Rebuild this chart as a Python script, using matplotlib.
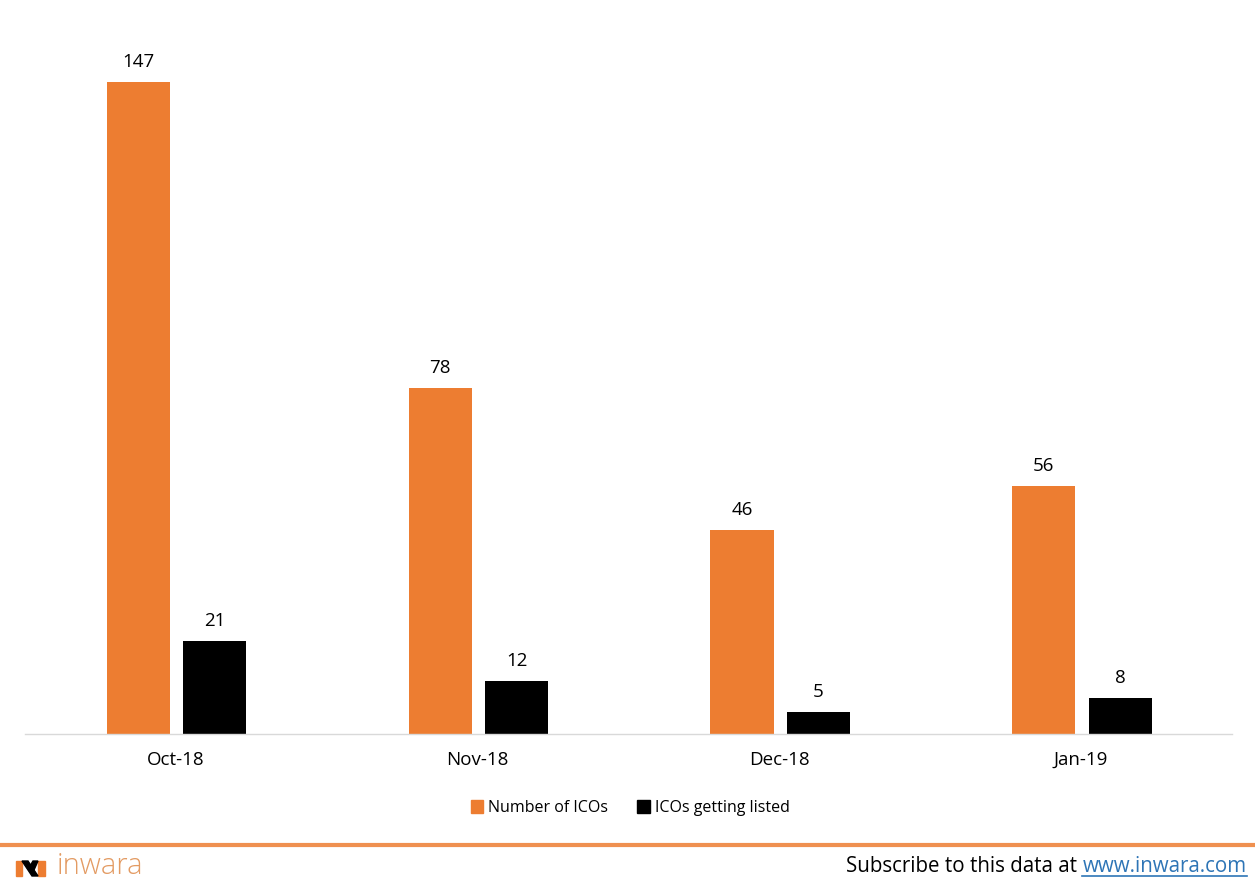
import matplotlib
matplotlib.use("Agg")
import matplotlib.pyplot as plt
from matplotlib.lines import Line2D
from matplotlib.patches import Patch, Polygon
import numpy as np

months = ["Oct-18", "Nov-18", "Dec-18", "Jan-19"]
num_icos = [147, 78, 46, 56]
icos_listed = [21, 12, 5, 8]

orange = "#ED7D31"
plt.rcParams['font.family'] = ['Open Sans', 'DejaVu Sans']

fig = plt.figure(figsize=(12.55, 8.89), dpi=100)
ax = fig.add_axes([0.0199, 0.1744, 0.9618, 0.8031])

x = np.arange(len(months))
w = 0.209
b1 = ax.bar(x - 0.124, num_icos, w, color=orange, label="Number of ICOs")
b2 = ax.bar(x + 0.129, icos_listed, w, color="black", label="ICOs getting listed")
for bars in (b1, b2):
    ax.bar_label(bars, padding=8, fontsize=13.5, color="black")

ax.set_xlim(-0.5, 3.5)
ax.set_ylim(0, 161)
ax.set_xticks(x)
ax.set_xticklabels(months, fontsize=13.5, color="black")
ax.tick_params(axis="x", length=0, pad=12)
ax.set_yticks([])
for s in ["top", "right", "left"]:
    ax.spines[s].set_visible(False)
ax.spines["bottom"].set_color("#D9D9D9")
ax.spines["bottom"].set_linewidth(1)

handles = [Patch(color=orange), Patch(color="black")]
fig.legend(handles, ["Number of ICOs", "ICOs getting listed"], loc="center",
           bbox_to_anchor=(0.502, 1 - 808 / 889), ncol=2, frameon=False,
           fontsize=11.5, handlelength=0.8, handleheight=0.8, handletextpad=0.3,
           columnspacing=1.8)

# footer
fig.add_artist(Line2D([0, 1], [1 - 845 / 889] * 2, color=orange, lw=3, alpha=0.85))


def px(pts):
    return [(a / 1255, 1 - b / 889) for a, b in pts]


# logo mark
fig.add_artist(Polygon(px([(16, 876), (16, 861), (22, 861), (22, 876)]), color=orange))
fig.add_artist(Polygon(px([(38, 876), (38, 861), (45, 861), (45, 876)]), color=orange))
fig.add_artist(Polygon(px([(22, 861), (28, 861), (38, 876), (32, 876)]), color="black"))
fig.add_artist(Polygon(px([(30, 866), (33, 861), (38, 861), (34, 870)]), color="black"))
fig.text(57 / 1255, 1 - 866 / 889, "inwara", color="#E39B63", fontsize=21,
         fontweight="light", va="center", ha="left")

sub = fig.text(846 / 1255, 1 - 867 / 889, "Subscribe to this data at ", color="black",
               fontsize=14.8, va="center", ha="left")
fig.canvas.draw()
sb = sub.get_window_extent().transformed(fig.transFigure.inverted())
link = fig.text(sb.x1, 1 - 867 / 889, "www.inwara.com", color="#2E75B6",
                fontsize=14.8, va="center", ha="left")
fig.canvas.draw()
bb = link.get_window_extent().transformed(fig.transFigure.inverted())
fig.add_artist(Line2D([bb.x0, bb.x1], [bb.y0 + 0.002] * 2, color="#2E75B6", lw=1.2))

fig.savefig("out.png", dpi=100)
